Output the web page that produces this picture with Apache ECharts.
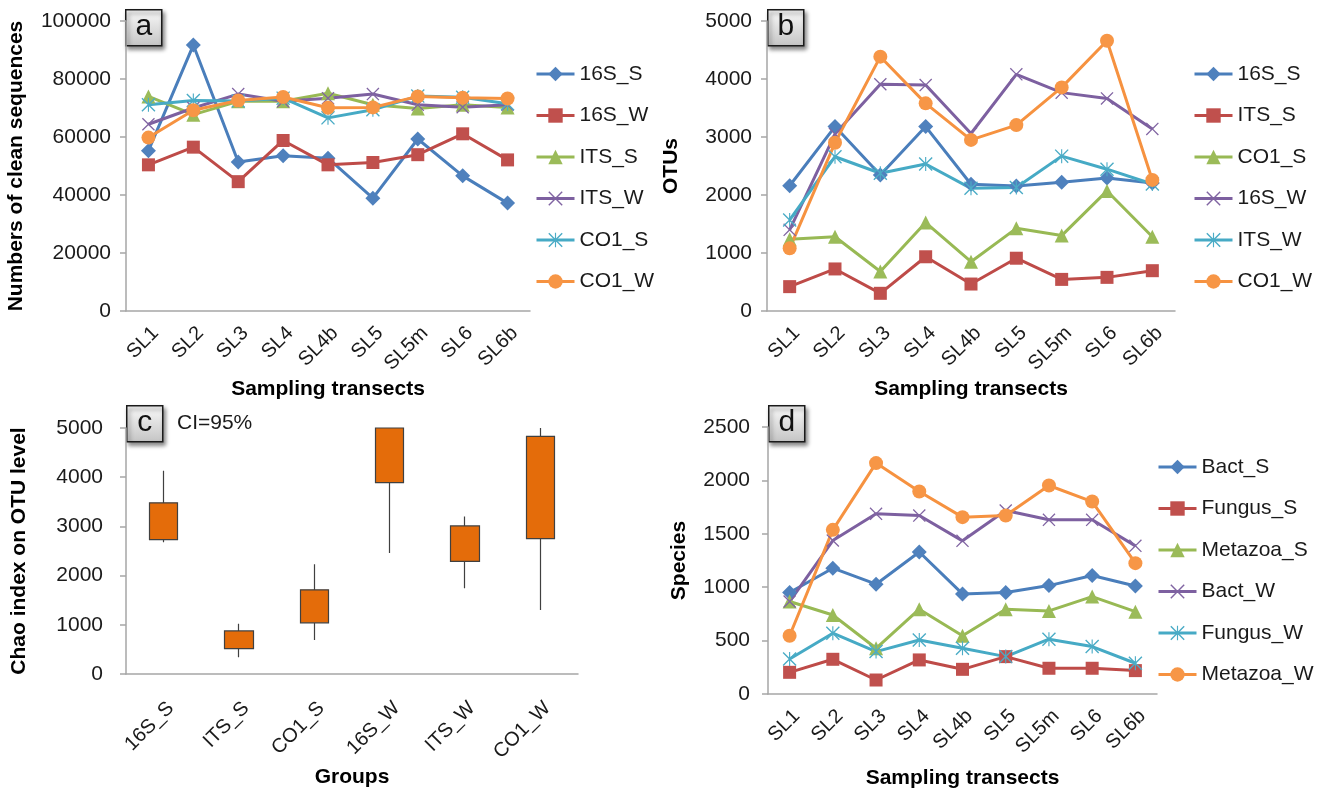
<!DOCTYPE html>
<html><head><meta charset="utf-8">
<script src="https://cdn.jsdelivr.net/npm/echarts@6/dist/echarts.min.js"></script>
<style>html,body{margin:0;padding:0;background:#fff}#c{width:1325px;height:794px}</style>
</head><body><div id="c"></div>
<script>
// ---------- data ----------
const transects = ['SL1','SL2','SL3','SL4','SL4b','SL5','SL5m','SL6','SL6b'];
const groups = ['16S_S','ITS_S','CO1_S','16S_W','ITS_W','CO1_W'];

// panel a: numbers of clean sequences
const a_16S_S = [55300, 91700, 51400, 53500, 52700, 38900, 59300, 46600, 37200];
const a_16S_W = [50400, 56500, 44600, 58800, 50400, 51200, 53900, 61100, 52100];
const a_ITS_S = [74000, 67700, 72300, 72300, 75100, 71100, 69800, 71100, 70200];
const a_ITS_W = [64400, 70000, 74800, 72300, 73400, 74800, 71100, 70300, 71100];
const a_CO1_S = [71100, 72600, 72400, 73400, 66600, 69400, 74100, 73700, 71500];
const a_CO1_W = [59800, 69200, 72600, 73800, 70100, 70200, 74000, 73500, 73300];

// panel b: OTUs
const b_16S_S = [2160, 3180, 2345, 3180, 2185, 2155, 2220, 2295, 2205];
const b_ITS_S = [420, 725, 305, 935, 465, 910, 545, 580, 695];
const b_CO1_S = [1235, 1280, 680, 1525, 850, 1425, 1300, 2070, 1280];
const b_16S_W = [1400, 3050, 3910, 3895, 3060, 4080, 3765, 3665, 3140];
const b_ITS_W = [1570, 2660, 2375, 2535, 2115, 2130, 2670, 2445, 2190];
const b_CO1_W = [1080, 2900, 4385, 3580, 2950, 3205, 3855, 4660, 2260];

// panel c: Chao index (CI=95%)
const c_low  = [2680, 340, 690, 2460, 1745, 1300];
const c_q1   = [2730, 515, 1040, 3890, 2290, 2750];
const c_q3   = [3480, 875, 1710, 5000, 3010, 4830];
const c_high = [4130, 1020, 2230, 5000, 3200, 5000];

// panel d: species
const d_Bact_S    = [950, 1178, 1028, 1330, 937, 950, 1015, 1110, 1012];
const d_Fungus_S  = [203, 325, 131, 319, 231, 350, 241, 241, 219];
const d_Metazoa_S = [866, 740, 428, 794, 545, 794, 778, 912, 771];
const d_Bact_W    = [866, 1437, 1687, 1671, 1434, 1718, 1631, 1631, 1387];
const d_Fungus_W  = [328, 569, 397, 506, 428, 350, 513, 444, 288];
const d_Metazoa_W = [545, 1537, 2162, 1896, 1656, 1671, 1952, 1802, 1225];

// ---------- styles ----------
const FONT = '"Liberation Sans", Arial, sans-serif';
const TXT = '#1a1a1a';
const AX = '#a6a6a6';
const X_PATH = 'path://M0,1.4L1.4,0L10,8.6L18.6,0L20,1.4L11.4,10L20,18.6L18.6,20L10,11.4L1.4,20L0,18.6L8.6,10Z';
const STAR_PATH = 'path://M0,1.4L1.4,0L10,8.6L18.6,0L20,1.4L11.4,10L20,18.6L18.6,20L10,11.4L1.4,20L0,18.6L8.6,10Z M9.2,0L10.8,0L10.8,20L9.2,20Z';
const ST = {
  blue:   {line:'#4a7ebb', fill:'#4f81bd', symbol:'diamond',  size:15},
  red:    {line:'#be4b48', fill:'#c0504d', symbol:'rect',     size:13},
  green:  {line:'#98b954', fill:'#9bbb59', symbol:'triangle', size:14},
  purple: {line:'#7d60a0', fill:'#8064a2', symbol:X_PATH,     size:13},
  cyan:   {line:'#46aac5', fill:'#4bacc6', symbol:STAR_PATH,  size:14},
  orange: {line:'#f69240', fill:'#f79646', symbol:'circle',   size:14}
};

function line(name, data, st, idx) {
  const s = ST[st];
  return {
    type:'line', name:name, data:data, xAxisIndex:idx, yAxisIndex:idx,
    symbol:s.symbol, symbolSize:s.size, showAllSymbol:true,
    lineStyle:{color:s.line, width:3},
    itemStyle:{color:s.fill},
    emphasis:{disabled:true}, animation:false
  };
}

function yAx(idx, min, max, interval, name, gap, margin) {
  return {
    type:'value', gridIndex:idx, min:min, max:max, interval:interval,
    name:name, nameLocation:'middle', nameRotate:90, nameGap:gap,
    nameTextStyle:{fontFamily:FONT, fontSize:21, fontWeight:'bold', color:'#000'},
    axisLine:{show:true, lineStyle:{color:AX, width:1.5}},
    axisTick:{show:true, length:6, lineStyle:{color:AX, width:1.5}},
    axisLabel:{fontFamily:FONT, fontSize:21, color:TXT, margin:margin, formatter:v => String(v)},
    splitLine:{show:false}
  };
}
function xAx(idx, cats, name, gap, margin) {
  return {
    type:'category', gridIndex:idx, data:cats, boundaryGap:true,
    name:name, nameLocation:'middle', nameGap:gap,
    nameTextStyle:{fontFamily:FONT, fontSize:21, fontWeight:'bold', color:'#000'},
    axisLine:{show:true, lineStyle:{color:AX, width:1.5}},
    axisTick:{show:false},
    axisLabel:{fontFamily:FONT, fontSize:20, color:TXT, rotate:45, margin:margin, interval:0, verticalAlign:'top'},
    splitLine:{show:false}
  };
}
function legend(names, left, top) {
  return {
    orient:'vertical', left:left, top:top, data:names,
    itemWidth:38, itemHeight:18, itemGap:19.5,
    lineStyle:{width:3},
    textStyle:{fontFamily:FONT, fontSize:21, color:TXT, lineHeight:22},
    selectedMode:false
  };
}
function labelBox(x, y, t) {
  return {
    type:'group', left:x, top:y, children:[
      {type:'rect', shape:{x:0, y:0, width:36, height:36},
       style:{fill:{type:'linear', x:0, y:0, x2:0, y2:1,
              colorStops:[{offset:0, color:'#fafafa'}, {offset:1, color:'#c4c4c4'}]},
              stroke:'#1a1a1a', lineWidth:1.5,
              shadowBlur:4, shadowOffsetX:2, shadowOffsetY:3, shadowColor:'rgba(0,0,0,0.45)'}},
      {type:'text', x:18, y:17,
       style:{text:t, fontFamily:FONT, fontSize:30, fill:'#111', align:'center', verticalAlign:'middle'}}
    ]
  };
}

const SP = ' '; // panel b names distinct from panel a names
const option = {
  backgroundColor:'#fff',
  animation:false,
  grid:[
    {left:126, top:21, width:404, height:290},
    {left:767, top:21, width:408, height:290},
    {left:126, top:428, width:452, height:246},
    {left:768, top:427, width:389, height:267}
  ],
  xAxis:[
    xAx(0, transects, 'Sampling transects', 68, 12),
    xAx(1, transects, 'Sampling transects', 68, 12),
    xAx(2, groups, 'Groups', 93, 24),
    xAx(3, transects, 'Sampling transects', 74, 12)
  ],
  yAxis:[
    yAx(0, 0, 100000, 20000, 'Numbers of clean sequences', 99, 15),
    yAx(1, 0, 5000, 1000, 'OTUs', 85, 15),
    yAx(2, 0, 5000, 1000, 'Chao index on OTU level', 96, 23),
    yAx(3, 0, 2500, 500, 'Species', 78, 18)
  ],
  legend:[
    legend(['16S_S','16S_W','ITS_S','ITS_W','CO1_S','CO1_W'], 530, 58),
    legend(['16S_S'+SP,'ITS_S'+SP,'CO1_S'+SP,'16S_W'+SP,'ITS_W'+SP,'CO1_W'+SP], 1188, 58),
    legend(['Bact_S','Fungus_S','Metazoa_S','Bact_W','Fungus_W','Metazoa_W'], 1152, 451)
  ],
  graphic:[
    labelBox(125, 9, 'a'),
    labelBox(767, 9, 'b'),
    labelBox(126, 405, 'c'),
    labelBox(768, 405, 'd'),
    {type:'text', left:177, top:413,
     style:{text:'CI=95%', fontFamily:FONT, fontSize:21, fill:TXT}}
  ],
  series:[
    line('16S_S', a_16S_S, 'blue', 0),
    line('16S_W', a_16S_W, 'red', 0),
    line('ITS_S', a_ITS_S, 'green', 0),
    line('ITS_W', a_ITS_W, 'purple', 0),
    line('CO1_S', a_CO1_S, 'cyan', 0),
    line('CO1_W', a_CO1_W, 'orange', 0),

    line('16S_S'+SP, b_16S_S, 'blue', 1),
    line('ITS_S'+SP, b_ITS_S, 'red', 1),
    line('CO1_S'+SP, b_CO1_S, 'green', 1),
    line('16S_W'+SP, b_16S_W, 'purple', 1),
    line('ITS_W'+SP, b_ITS_W, 'cyan', 1),
    line('CO1_W'+SP, b_CO1_W, 'orange', 1),

    {
      type:'candlestick', name:'Chao', xAxisIndex:2, yAxisIndex:2,
      barWidth:29,
      data: groups.map((g, i) => [c_q1[i], c_q3[i], c_low[i], c_high[i]]),
      itemStyle:{color:'#e46c0a', color0:'#e46c0a', borderColor:'#404040', borderColor0:'#404040', borderWidth:1.2},
      emphasis:{disabled:true}, animation:false
    },

    line('Bact_S', d_Bact_S, 'blue', 3),
    line('Fungus_S', d_Fungus_S, 'red', 3),
    line('Metazoa_S', d_Metazoa_S, 'green', 3),
    line('Bact_W', d_Bact_W, 'purple', 3),
    line('Fungus_W', d_Fungus_W, 'cyan', 3),
    line('Metazoa_W', d_Metazoa_W, 'orange', 3)
  ]
};
const chart = echarts.init(document.getElementById('c'), null, {renderer:'canvas'});
chart.setOption(option);
</script>
</body></html>
